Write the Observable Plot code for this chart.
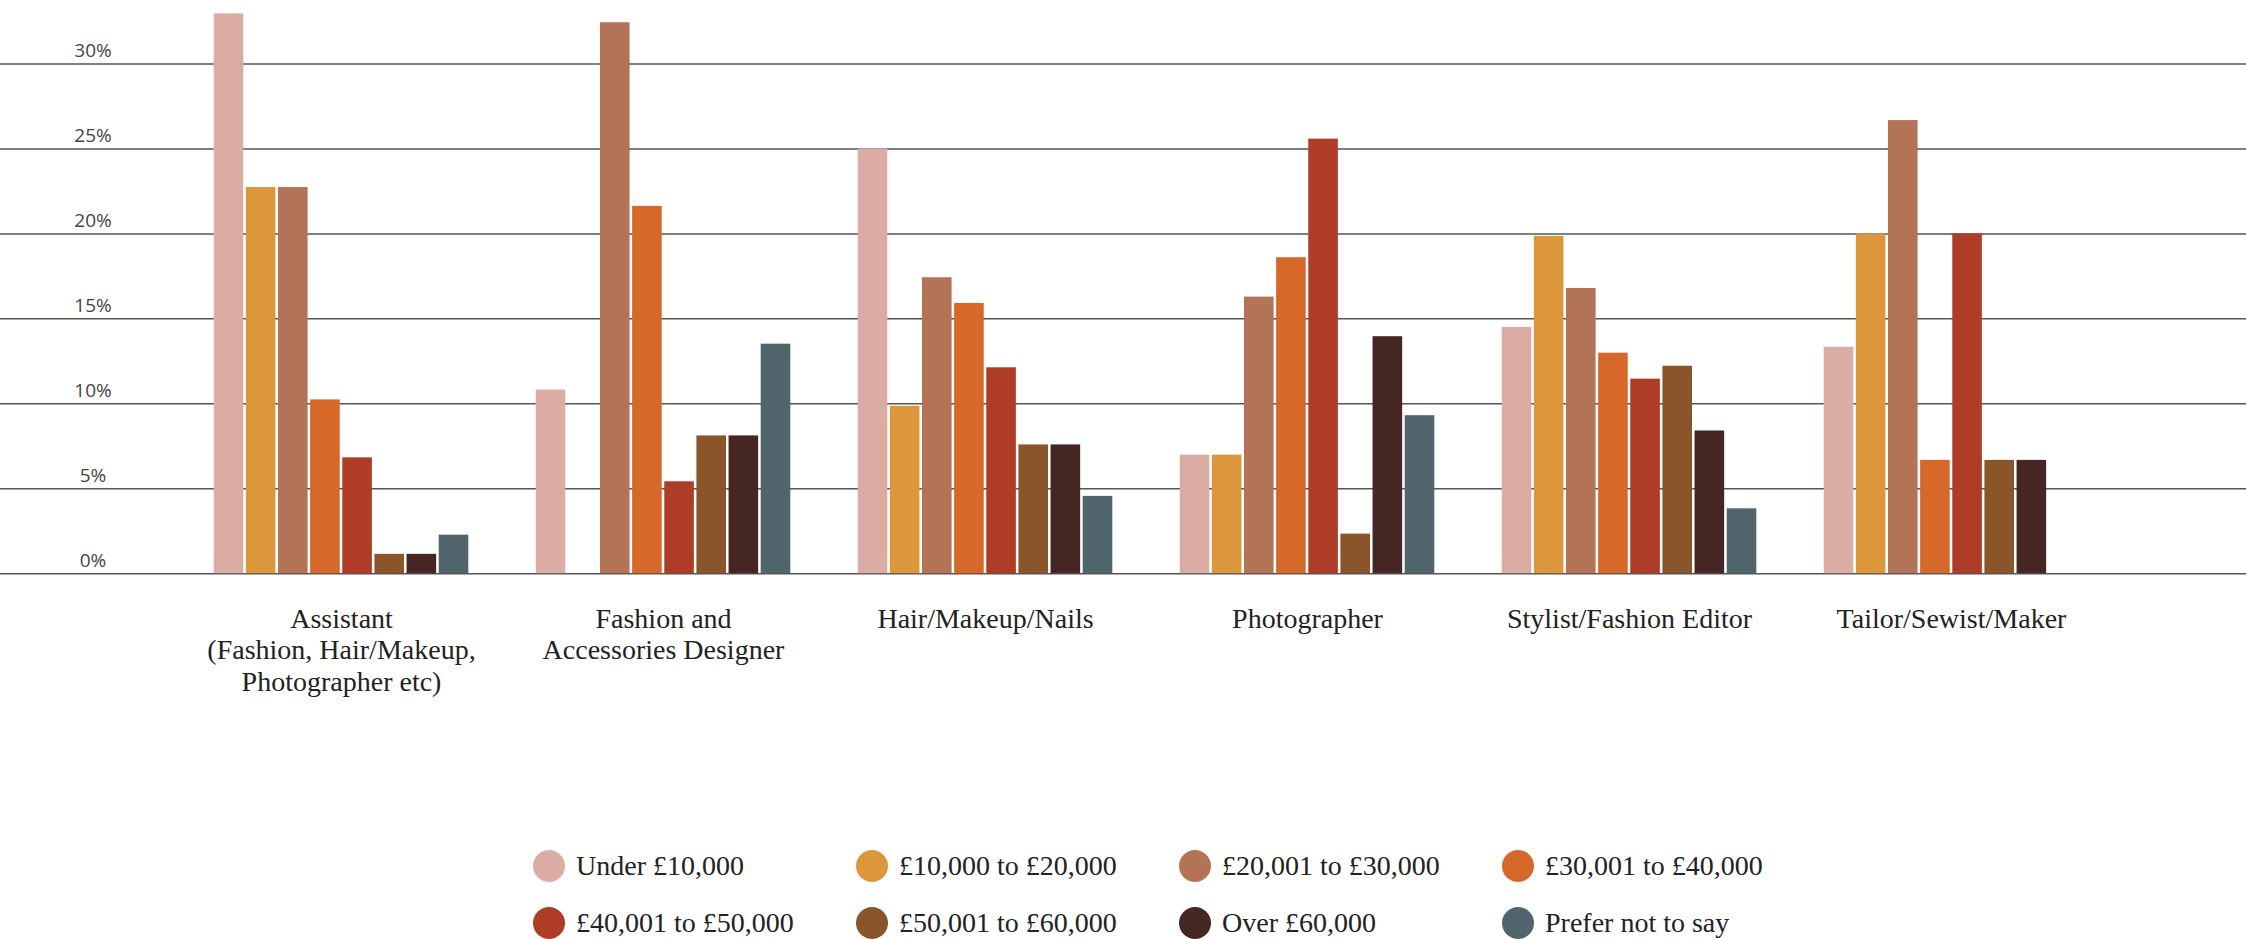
<!DOCTYPE html>
<html><head><meta charset="utf-8">
<script src="https://cdn.jsdelivr.net/npm/d3@7"></script>
<script src="https://cdn.jsdelivr.net/npm/@observablehq/plot@0.6"></script>
<style>
body{margin:0;background:#fff;}
#legend{display:grid;grid-template-columns:repeat(4,323px);margin-left:533px;margin-top:57px;}
.item{display:flex;align-items:center;height:57px;font-family:"Liberation Serif",serif;font-size:28px;color:#222;white-space:nowrap;}
.sw{width:32px;height:32px;border-radius:50%;margin-right:11px;flex:none;}
</style></head><body>
<div id="chart"></div><div id="legend"></div>
<script>
const categories = ["Assistant","Fashion and Accessories Designer","Hair/Makeup/Nails","Photographer","Stylist/Fashion Editor","Tailor/Sewist/Maker"];
const categoryLabels = ["Assistant\n(Fashion, Hair/Makeup,\nPhotographer etc)","Fashion and\nAccessories Designer","Hair/Makeup/Nails","Photographer","Stylist/Fashion Editor","Tailor/Sewist/Maker"];
const incomes = ["Under £10,000","£10,000 to £20,000","£20,001 to £30,000","£30,001 to £40,000","£40,001 to £50,000","£50,001 to £60,000","Over £60,000","Prefer not to say"];
const colors = ["#dbaca3","#dc973d","#b37357","#d6682a","#af3c27","#8a5629","#462622","#51656c"];
const assistant = [32.95, 22.73, 22.73, 10.23, 6.82, 1.14, 1.14, 2.27];
const designer = [10.81, 0, 32.43, 21.62, 5.41, 8.11, 8.11, 13.51];
const hairMakeup = [25.0, 9.85, 17.42, 15.91, 12.12, 7.58, 7.58, 4.55];
const photographer = [6.98, 6.98, 16.28, 18.6, 25.58, 2.33, 13.95, 9.3];
const stylist = [14.5, 19.85, 16.79, 12.98, 11.45, 12.21, 8.4, 3.82];
const tailor = [13.33, 20.0, 26.67, 6.67, 20.0, 6.67, 6.67, 0];
const yTicks = [0, 5, 10, 15, 20, 25, 30];

const series = [assistant, designer, hairMakeup, photographer, stylist, tailor];
const table = [];
categories.forEach((c, ci) => incomes.forEach((inc, ii) => table.push({category: c, income: inc, value: series[ci][ii]})));
const labelMap = new Map(categories.map((c, i) => [c, categoryLabels[i]]));

const W = 2246, H = 780, zeroY = 573.2;
const xRange = [178.4, 2112.8];
const groupW = (xRange[1] - xRange[0]) / categories.length;
const inner = d3.scaleBand().domain(incomes).range([-127.5, 127.5]).paddingInner(0.0667);
const barW = inner.bandwidth();
const ins = (groupW - barW) / 2;

const chart = Plot.plot({
  width: W, height: H,
  marginLeft: 0, marginRight: 0, marginTop: 0, marginBottom: H - zeroY,
  x: {domain: categories, range: xRange, padding: 0, axis: null},
  y: {domain: [0, 33.74], axis: null},
  color: {domain: incomes, range: colors},
  marks: [
    Plot.gridY(yTicks, {stroke: "#555", strokeOpacity: 1, strokeWidth: 1.5}),
    ...incomes.map(inc => Plot.barY(table.filter(d => d.income === inc && d.value > 0), {
      x: "category", y: "value", fill: "income",
      insetLeft: ins, insetRight: ins, dx: inner(inc) + barW / 2
    })),
    Plot.axisX({tickSize: 0, tickPadding: 31.5, fontSize: 28, fontFamily: "Liberation Serif", lineHeight: 1.13,
      tickFormat: d => labelMap.get(d), fill: "#222", label: null}),
    Plot.text(yTicks, {y: d => d, text: d => d + "%", frameAnchor: "left", dx: 92.5, dy: -7,
      lineAnchor: "bottom", textAnchor: "middle", fontSize: 19, fill: "#444",
      fontFamily: "Open Sans", ariaLabel: "y-tick-label"})
  ]
});
document.getElementById("chart").appendChild(chart);
chart.querySelectorAll('g[aria-label="y-tick-label"] text').forEach(t => {
  const s = t.textContent;
  t.textContent = s.slice(0, -1);
  const ts = document.createElementNS("http://www.w3.org/2000/svg", "tspan");
  ts.setAttribute("font-size", "13");
  ts.textContent = "%";
  t.appendChild(ts);
});

const legend = document.getElementById("legend");
incomes.forEach((inc, i) => {
  const it = document.createElement("div");
  it.className = "item";
  const sw = document.createElement("span");
  sw.className = "sw";
  sw.style.background = colors[i];
  it.appendChild(sw);
  it.appendChild(document.createTextNode(inc));
  legend.appendChild(it);
});
</script>
</body></html>
